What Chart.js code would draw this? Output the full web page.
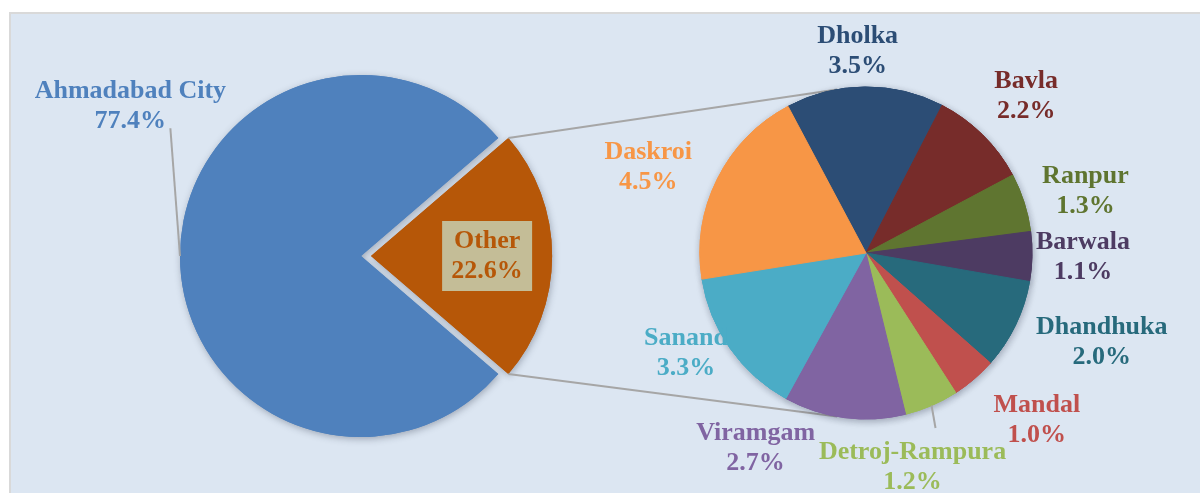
<!DOCTYPE html>
<html>
<head>
<meta charset="utf-8">
<script src="https://cdn.jsdelivr.net/npm/chart.js@4.4.1/dist/chart.umd.min.js"></script>
<style>
  html, body { margin: 0; padding: 0; background: #ffffff; overflow: hidden; }
  #frame { position: absolute; left: 9px; top: 12px; width: 1200px; height: 490px; background: #dce6f2; border: 2px solid #d9d9d9; }
  .layer { position: absolute; left: 0; top: 0; width: 1200px; height: 493px; }
</style>
</head>
<body>
<div id="frame"></div>
<div class="layer"><canvas id="mainPie"></canvas></div>
<div class="layer"><canvas id="subPie"></canvas></div>
<script>
//################### Data ###################
const mainLabels = ['Other', 'Ahmadabad City'];
const mainValues = [22.6, 77.4];
const mainColors = ['#b65708', '#4f81bd'];

const subLabels = ['Dholka', 'Bavla', 'Ranpur', 'Barwala', 'Dhandhuka', 'Mandal',
                   'Detroj-Rampura', 'Viramgam', 'Sanand', 'Daskroi'];
const subValues = [3.5, 2.2, 1.3, 1.1, 2.0, 1.0, 1.2, 2.7, 3.3, 4.5];
const subColors = ['#2c4d75', '#772c2a', '#5f7530', '#4d3b62', '#276a7c',
                   '#c0504d', '#9bbb59', '#8064a2', '#4bacc6', '#f79646'];

//################### Label placement (angle nudge deg, gap past the rim px) ###################
const mainLabelPlace = [[0, -65], [33, 94]];
const subLabelPlace = [[-2, 36], [1, 58], [2, 62], [0, 51], [-5, 86],
                       [-5, 73], [11, 53], [22, 58], [6, 40], [-5, 68]];
// leader lines: slice index -> end point relative to the label centre
const mainLeaders = {1: [40, 22]};
const subLeaders = {6: [23, -39]};

const labelFont = 'bold 26px "Liberation Serif", "Times New Roman", serif';

//################### Plugins ###################
const shadowPlugin = {
    id: 'pieShadow',
    beforeDatasetsDraw(chart) {
        const ctx = chart.ctx;
        ctx.save();
        ctx.shadowColor = 'rgba(40, 50, 70, 0.35)';
        ctx.shadowBlur = 7;
        ctx.shadowOffsetX = 1;
        ctx.shadowOffsetY = 2;
        chart.getDatasetMeta(0).data.forEach(arc => arc.draw(ctx));
        ctx.restore();
    }
};

// centre of an arc after Chart.js applies its offset (it shifts by offset/4, plus a small fix)
function arcCentre(arc) {
    const mid = (arc.startAngle + arc.endAngle) / 2;
    const base = (arc.options.offset || 0) / 4;
    const fix = 1 - Math.sin(Math.min(Math.PI, arc.endAngle - arc.startAngle));
    const off = base + base * fix;
    return [arc.x + off * Math.cos(mid), arc.y + off * Math.sin(mid), mid];
}

function makeLabelPlugin(labels, values, colors, place, leaders, boxed) {
    return {
        id: 'sliceLabels',
        afterDatasetsDraw(chart) {
            const ctx = chart.ctx;
            ctx.save();
            chart.getDatasetMeta(0).data.forEach((arc, i) => {
                const [cx, cy, mid] = arcCentre(arc);
                const ang = mid + place[i][0] * Math.PI / 180;
                const dist = arc.outerRadius + place[i][1];
                const lx = cx + dist * Math.cos(ang);
                const ly = cy + dist * Math.sin(ang);

                if (leaders[i]) {
                    ctx.strokeStyle = '#a6a6a6';
                    ctx.lineWidth = 2;
                    ctx.beginPath();
                    ctx.moveTo(cx + arc.outerRadius * Math.cos(mid), cy + arc.outerRadius * Math.sin(mid));
                    ctx.lineTo(lx + leaders[i][0], ly + leaders[i][1]);
                    ctx.stroke();
                }
                if (boxed[i]) {
                    ctx.fillStyle = boxed[i];
                    ctx.fillRect(lx - 45, ly - 35, 90, 70);
                }
                ctx.font = labelFont;
                ctx.fillStyle = colors[i];
                ctx.textAlign = 'center';
                ctx.textBaseline = 'middle';
                ctx.fillText(labels[i], lx, ly - 15);
                ctx.fillText(values[i].toFixed(1) + '%', lx, ly + 15);
            });
            ctx.restore();
        }
    };
}

const connectorPlugin = {
    id: 'connectors',
    beforeDatasetsDraw(chart) {
        const other = mainChart.getDatasetMeta(0).data[0];
        const [ox, oy] = arcCentre(other);
        const r1 = other.outerRadius;
        const sub = chart.getDatasetMeta(0).data[0];
        const r2 = sub.outerRadius;
        const tilt = 10 * Math.PI / 180;
        const ctx = chart.ctx;
        ctx.save();
        ctx.strokeStyle = '#a6a6a6';
        ctx.lineWidth = 2;
        ctx.beginPath();
        ctx.moveTo(ox + r1 * Math.cos(other.startAngle), oy + r1 * Math.sin(other.startAngle));
        ctx.lineTo(sub.x - r2 * Math.sin(tilt), sub.y - r2 * Math.cos(tilt));
        ctx.moveTo(ox + r1 * Math.cos(other.endAngle), oy + r1 * Math.sin(other.endAngle));
        ctx.lineTo(sub.x - r2 * Math.sin(tilt), sub.y + r2 * Math.cos(tilt));
        ctx.stroke();
        ctx.restore();
    }
};

//################### Main pie ###################
const mainTotal = mainValues.reduce((a, b) => a + b, 0);
const mainChart = new Chart(document.getElementById('mainPie').getContext('2d'), {
    type: 'pie',
    data: {
        labels: mainLabels,
        datasets: [{
            data: mainValues,
            backgroundColor: mainColors,
            borderWidth: 0,
            offset: [40, 0],
        }]
    },
    options: {
        responsive: true,
        maintainAspectRatio: false,
        animation: false,
        rotation: 90 - mainValues[0] / mainTotal * 180,
        radius: 181,
        layout: { padding: { left: 0, right: 478, top: 19, bottom: 0 } },
        plugins: {
            legend: { display: false },
            tooltip: { enabled: false }
        }
    },
    plugins: [shadowPlugin,
              makeLabelPlugin(mainLabels, mainValues, mainColors, mainLabelPlace, mainLeaders, {0: '#c4bd97'})]
});

//################### Breakdown pie ###################
new Chart(document.getElementById('subPie').getContext('2d'), {
    type: 'pie',
    data: {
        labels: subLabels,
        datasets: [{
            data: subValues,
            backgroundColor: subColors,
            borderColor: subColors,
            borderWidth: 1,
        }]
    },
    options: {
        responsive: true,
        maintainAspectRatio: false,
        animation: false,
        rotation: -28,
        radius: 166,
        layout: { padding: { left: 532, right: 0, top: 13, bottom: 0 } },
        plugins: {
            legend: { display: false },
            tooltip: { enabled: false }
        }
    },
    plugins: [connectorPlugin, shadowPlugin,
              makeLabelPlugin(subLabels, subValues, subColors, subLabelPlace, subLeaders, {})]
});
</script>
</body>
</html>
